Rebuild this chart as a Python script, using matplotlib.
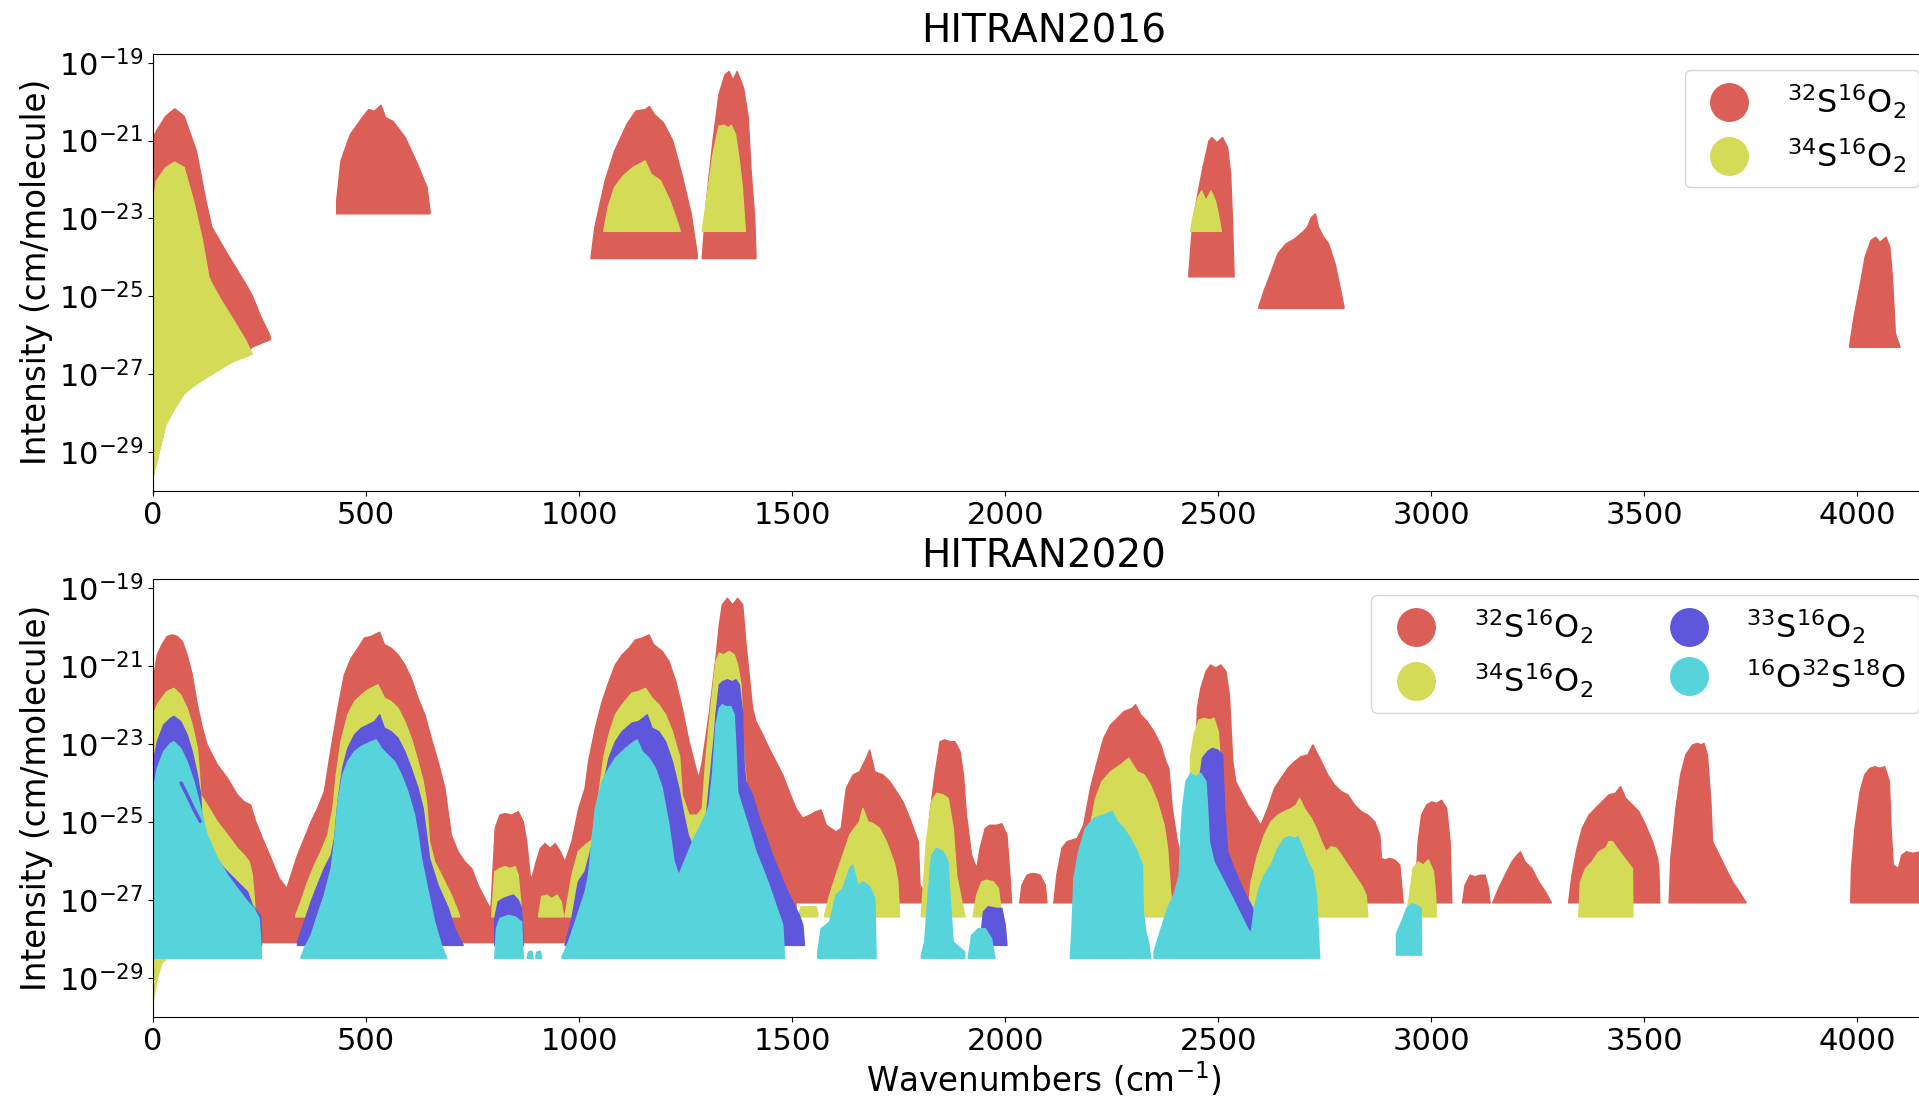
import matplotlib
matplotlib.use("Agg")
import matplotlib.pyplot as plt
import numpy as np
from matplotlib.lines import Line2D
from matplotlib.ticker import NullLocator


RED = "#db5f57"
YELLOW = "#d3db57"
BLUE = "#5f57db"
CYAN = "#57d3db"

LABEL_626 = r"$^{32}$S$^{16}$O$_2$"
LABEL_646 = r"$^{34}$S$^{16}$O$_2$"
LABEL_636 = r"$^{33}$S$^{16}$O$_2$"
LABEL_628 = r"$^{16}$O$^{32}$S$^{18}$O"

X_TICKS = [0, 500, 1000, 1500, 2000, 2500, 3000, 3500, 4000]
Y_TICK_EXPONENTS = [-29, -27, -25, -23, -21, -19]

# Each band: (wavenumber, log10 of the upper envelope) pairs, then the log10 floor
# (a single value, or one value per pair when the lower edge is not flat).

S626_2016 = [
    ([(0, -20.9), (7, -20.74), (29, -20.36), (50, -20.17), (72, -20.36), (101, -21.26),
      (123, -22.53), (137, -23.21), (173, -23.89), (216, -24.66), (231, -24.95),
      (252, -25.51), (271, -25.94), (274, -26.02)],
     [-29.55, -29.25, -28.25, -27.83, -27.45, -27.22, -27.06, -26.97, -26.72, -26.5,
      -26.3, -26.2, -26.12, -26.1]),
    ([(430, -22.53), (440, -21.51), (462, -20.83), (490, -20.40), (505, -20.19), (519, -20.23),
      (534, -20.08), (545, -20.40), (562, -20.49), (591, -20.91), (620, -21.60), (642, -22.19),
      (649, -22.79)], -22.87),
    ([(1027, -23.98), (1036, -23.21), (1060, -22.02), (1082, -21.26), (1111, -20.57),
      (1132, -20.23), (1154, -20.19), (1164, -20.11), (1176, -20.32), (1197, -20.53),
      (1219, -21.0), (1240, -21.85), (1262, -22.87), (1276, -23.89)], -24.02),
    ([(1288, -23.98), (1298, -22.53), (1313, -21.0), (1327, -19.81), (1341, -19.30),
      (1351, -19.21), (1360, -19.43), (1370, -19.21), (1385, -19.64), (1396, -20.40),
      (1402, -21.68), (1411, -22.96), (1414, -23.89)], -24.02),
    ([(2430, -24.40), (2437, -23.38), (2448, -22.53), (2463, -21.68), (2477, -21.0),
      (2484, -20.91), (2496, -21.04), (2509, -20.91), (2521, -21.17), (2528, -21.85),
      (2532, -22.96), (2536, -24.40)], -24.49),
    ([(2594, -25.26), (2607, -24.83), (2622, -24.40), (2639, -23.89), (2658, -23.64),
      (2679, -23.51), (2701, -23.30), (2708, -23.21), (2718, -22.96), (2727, -22.87),
      (2734, -23.21), (2744, -23.43), (2758, -23.64), (2773, -24.15), (2783, -24.66),
      (2794, -25.26)], -25.30),
    ([(3981, -26.23), (3991, -25.51), (4006, -24.66), (4017, -23.98), (4031, -23.55),
      (4042, -23.47), (4052, -23.60), (4066, -23.47), (4075, -23.72), (4081, -24.49),
      (4088, -25.94), (4099, -26.30)], -26.30),
]

S646_2016 = [
    ([(0, -22.53), (7, -22.02), (29, -21.68), (50, -21.54), (72, -21.68), (94, -22.53),
      (115, -23.55), (130, -24.49), (137, -24.66), (159, -25.09), (188, -25.6),
      (216, -26.11), (231, -26.45)],
     [-29.6, -29.3, -28.3, -27.88, -27.5, -27.3, -27.15, -27.04, -27.0, -26.85, -26.66,
      -26.55, -26.48]),
    ([(1057, -23.30), (1067, -22.70), (1082, -22.19), (1103, -21.89), (1125, -21.68),
      (1139, -21.60), (1154, -21.51), (1168, -21.85), (1190, -22.02), (1212, -22.53),
      (1226, -22.96), (1236, -23.30)], -23.32),
    ([(1288, -23.30), (1298, -22.53), (1313, -21.34), (1327, -20.62), (1339, -20.59),
      (1349, -20.66), (1356, -20.59), (1366, -20.83), (1375, -21.51), (1382, -22.19),
      (1389, -23.30)], -23.32),
    ([(2434, -23.30), (2441, -22.87), (2451, -22.45), (2460, -22.28), (2470, -22.53),
      (2482, -22.28), (2492, -22.53), (2499, -22.87), (2506, -23.30)], -23.32),
]

S626_2020 = [
    ([(0, -21.30), (9, -20.70), (20, -20.44), (32, -20.23), (44, -20.19), (56, -20.23),
      (68, -20.36), (79, -20.70), (91, -21.21), (103, -21.98), (115, -22.58), (126, -23.01),
      (134, -23.18), (150, -23.52), (174, -23.87), (197, -24.29), (213, -24.47), (228, -24.55),
      (240, -24.98), (256, -25.41), (276, -25.92), (295, -26.43), (313, -26.69), (323, -26.35),
      (338, -25.84), (354, -25.41), (370, -24.98), (385, -24.64), (401, -24.21), (417, -23.10),
      (433, -22.07), (448, -21.21), (464, -20.79), (480, -20.53), (495, -20.27), (511, -20.23),
      (531, -20.12), (542, -20.44), (558, -20.53), (574, -20.70), (590, -20.96), (605, -21.30),
      (621, -21.81), (637, -22.24), (652, -22.84), (668, -23.44), (684, -24.12), (699, -25.32),
      (715, -25.75), (731, -26.01), (747, -26.18), (762, -26.61), (778, -26.95), (786, -27.12),
      (792, -27.20), (802, -25.15), (813, -24.81), (825, -24.77), (841, -24.81), (856, -24.72),
      (868, -24.98), (876, -25.49), (884, -26.35), (888, -26.44), (896, -26.09), (908, -25.66),
      (919, -25.54), (931, -25.66), (943, -25.54), (955, -25.75), (966, -26.01), (982, -25.49),
      (998, -24.64), (1013, -24.12), (1021, -23.44), (1037, -22.58), (1053, -21.90),
      (1069, -21.39), (1084, -20.96), (1100, -20.70), (1116, -20.53), (1131, -20.32),
      (1147, -20.27), (1163, -20.19), (1174, -20.44), (1194, -20.61), (1210, -20.87),
      (1226, -21.39), (1241, -22.07), (1257, -22.93), (1273, -23.61), (1280, -23.87),
      (1288, -23.44), (1304, -22.24), (1320, -20.79), (1328, -19.93), (1335, -19.42),
      (1347, -19.25), (1359, -19.42), (1371, -19.25), (1383, -19.42), (1390, -20.36),
      (1398, -21.21), (1406, -22.07), (1414, -22.41), (1430, -22.75), (1445, -23.10),
      (1461, -23.44), (1477, -23.78), (1492, -24.21), (1508, -24.64)], -28.08),
    ([(1508, -24.64), (1524, -24.89), (1540, -24.81), (1555, -24.72), (1567, -24.68),
      (1579, -25.07), (1602, -25.24), (1614, -25.15), (1626, -24.12), (1642, -23.78),
      (1657, -23.70), (1673, -23.35), (1681, -23.14), (1693, -23.70), (1712, -23.78),
      (1728, -23.95), (1744, -24.21), (1759, -24.47), (1775, -24.89), (1795, -25.49),
      (1799, -26.61), (1810, -26.78), (1822, -24.81), (1834, -23.78), (1846, -22.93),
      (1857, -22.88), (1869, -22.93), (1881, -22.93), (1893, -23.18), (1901, -23.78),
      (1908, -24.81), (1920, -25.84), (1932, -26.18), (1940, -25.66), (1952, -25.15),
      (1963, -25.07), (1979, -25.07), (1991, -25.03), (2003, -25.32), (2010, -26.35),
      (2014, -27.06)], -27.06),
    ([(2033, -27.06), (2038, -26.61), (2050, -26.35), (2061, -26.31), (2069, -26.31),
      (2081, -26.35), (2093, -26.61), (2097, -27.06)], -27.06),
    ([(2113, -27.06), (2120, -26.35), (2132, -25.66), (2144, -25.49), (2168, -25.41),
      (2183, -25.07), (2199, -24.12), (2215, -23.44), (2230, -22.84), (2246, -22.50),
      (2262, -22.33), (2277, -22.16), (2297, -22.07), (2305, -21.98), (2317, -22.24),
      (2332, -22.41), (2348, -22.67), (2364, -23.01), (2376, -23.44), (2383, -23.61),
      (2391, -24.64), (2403, -25.49), (2419, -26.18), (2427, -26.52), (2434, -25.5),
      (2442, -24.64), (2450, -22.07), (2458, -21.56), (2470, -21.13), (2481, -20.96),
      (2493, -21.04), (2505, -20.96), (2517, -21.13), (2525, -21.73), (2533, -23.44),
      (2540, -23.95), (2552, -24.21), (2568, -24.55), (2584, -24.81), (2599, -25.07),
      (2615, -24.64), (2631, -24.12), (2646, -23.87), (2662, -23.61), (2678, -23.44),
      (2693, -23.31), (2709, -23.27), (2721, -23.01), (2729, -23.18), (2741, -23.44),
      (2756, -23.78), (2772, -24.04), (2788, -24.21), (2803, -24.29), (2819, -24.55),
      (2835, -24.72), (2850, -24.81), (2866, -24.98), (2878, -25.32), (2882, -25.92),
      (2890, -25.96), (2902, -25.92), (2913, -25.96), (2925, -26.09), (2933, -27.06)], -27.06),
    ([(2960, -27.06), (2968, -25.49), (2976, -24.81), (2988, -24.55), (3000, -24.47),
      (3011, -24.51), (3023, -24.43), (3035, -24.64), (3043, -25.49), (3047, -27.06)], -27.06),
    ([(3072, -27.06), (3078, -26.61), (3090, -26.35), (3102, -26.39), (3113, -26.35),
      (3125, -26.35), (3133, -26.69), (3137, -27.06)], -27.06),
    ([(3143, -27.06), (3157, -26.69), (3172, -26.35), (3188, -26.01), (3200, -25.84),
      (3208, -25.75), (3219, -26.01), (3235, -26.18), (3251, -26.52), (3267, -26.78),
      (3281, -27.06)], -27.06),
    ([(3321, -27.06), (3329, -26.35), (3341, -25.66), (3353, -25.15), (3369, -24.81),
      (3392, -24.55), (3416, -24.29), (3431, -24.25), (3443, -24.08), (3455, -24.38),
      (3471, -24.55), (3486, -24.72), (3502, -25.07), (3518, -25.49), (3530, -25.92),
      (3533, -26.22), (3535, -27.06)], -27.06),
    ([(3557, -27.06), (3561, -25.92), (3573, -24.64), (3584, -23.78), (3596, -23.27),
      (3612, -23.01), (3624, -22.97), (3632, -23.01), (3639, -22.97), (3647, -23.27),
      (3655, -24.47), (3659, -25.49), (3675, -25.84), (3690, -26.18), (3706, -26.52),
      (3722, -26.78), (3738, -27.06)], -27.06),
    ([(3983, -27.06), (3985, -26.18), (3993, -25.15), (4005, -24.21), (4016, -23.78),
      (4028, -23.61), (4040, -23.57), (4052, -23.61), (4063, -23.57), (4074, -23.95),
      (4078, -25.15), (4083, -26.09), (4095, -26.18), (4103, -25.84), (4114, -25.75),
      (4130, -25.79), (4146, -25.75), (4160, -25.79), (4200, -25.8)], -27.06),
]

S646_2020 = [
    ([(0, -22.24), (9, -21.98), (20, -21.81), (32, -21.64), (48, -21.56), (64, -21.73),
      (79, -22.07), (91, -22.50), (103, -23.10), (107, -23.6), (111, -24.29), (126, -24.55),
      (150, -24.98), (174, -25.32), (197, -25.66), (213, -25.84), (225, -26.01), (232, -26.35),
      (238, -27.12)],
     [-29.55, -29.0, -28.6, -28.49, -28.49, -28.49, -28.49, -28.49, -28.49, -28.49, -28.49,
      -28.49, -28.49, -28.49, -28.49, -28.49, -28.49, -28.49, -28.49]),
    ([(334, -27.38), (346, -27.03), (362, -26.52), (378, -26.09), (393, -25.75), (409, -25.32),
      (421, -24.64), (429, -23.78), (440, -22.93), (456, -22.24), (472, -21.90), (488, -21.73),
      (503, -21.60), (527, -21.47), (542, -21.81), (558, -21.90), (574, -22.07), (590, -22.41),
      (605, -22.84), (621, -23.44), (633, -23.95), (641, -24.47), (648, -25.49), (660, -26.01),
      (676, -26.35), (699, -26.86), (715, -27.29), (719, -27.42)], -27.42),
    ([(794, -27.38), (801, -26.26), (813, -26.18), (825, -26.13), (837, -26.18), (849, -26.13),
      (856, -26.35), (864, -27.29)], -27.42),
    ([(904, -27.38), (911, -26.90), (923, -26.86), (935, -26.95), (947, -26.86), (957, -27.03),
      (962, -27.38)], -27.42),
    ([(966, -27.38), (982, -26.35), (997, -25.75), (1013, -25.58), (1029, -25.45), (1045, -24.3),
      (1057, -23.31), (1069, -22.75), (1084, -22.24), (1100, -21.98), (1123, -21.68),
      (1139, -21.64), (1155, -21.56), (1170, -21.81), (1186, -21.98), (1202, -22.24),
      (1218, -22.67), (1229, -23.10), (1235, -23.31), (1241, -24.3), (1257, -24.81),
      (1276, -24.81), (1288, -24.64), (1296, -23.44), (1308, -22.07), (1320, -20.87),
      (1328, -20.66), (1339, -20.70), (1351, -20.61), (1363, -20.70), (1371, -20.96),
      (1379, -21.47), (1386, -23.35), (1390, -23.8), (1394, -27.42)], -27.42),
    ([(1516, -27.3), (1520, -27.16), (1555, -27.16), (1559, -27.3)], -27.42),
    ([(1575, -27.38), (1587, -26.86), (1602, -26.35), (1618, -25.84), (1634, -25.32),
      (1645, -25.15), (1657, -24.98), (1665, -24.64), (1677, -24.98), (1689, -25.03),
      (1704, -25.15), (1720, -25.49), (1732, -25.84), (1740, -26.09), (1747, -26.52),
      (1751, -27.38)], -27.42),
    ([(1802, -27.38), (1814, -25.49), (1826, -24.47), (1838, -24.25), (1853, -24.29),
      (1865, -24.38), (1877, -25.15), (1885, -26.35), (1897, -27.03), (1904, -27.38)], -27.42),
    ([(1924, -27.38), (1932, -26.86), (1944, -26.52), (1955, -26.48), (1971, -26.52),
      (1983, -26.69), (1991, -27.38)], -27.42),
    ([(2175, -27.38), (2187, -26.18), (2199, -25.07), (2211, -24.38), (2226, -23.95),
      (2246, -23.70), (2270, -23.52), (2289, -23.35), (2309, -23.70), (2325, -23.78),
      (2340, -24.04), (2356, -24.47), (2372, -25.07), (2380, -25.66), (2387, -26.78),
      (2395, -27.38)], -27.42),
    ([(2432, -27.38), (2434, -23.31), (2442, -22.75), (2454, -22.37), (2466, -22.33),
      (2478, -22.37), (2489, -22.33), (2499, -22.67), (2503, -23.31), (2507, -27.38)], -27.42),
    ([(2568, -27.38), (2576, -26.52), (2591, -25.84), (2607, -25.32), (2623, -24.98),
      (2639, -24.81), (2654, -24.72), (2670, -24.64), (2682, -24.55), (2690, -24.38),
      (2701, -24.64), (2717, -24.89), (2729, -25.15), (2741, -25.49), (2752, -25.75),
      (2764, -25.62), (2776, -25.66), (2788, -25.84), (2803, -26.09), (2819, -26.35),
      (2835, -26.61), (2846, -26.86), (2850, -27.38)], -27.42),
    ([(2941, -27.38), (2949, -26.78), (2956, -26.18), (2968, -26.01), (2980, -26.09),
      (2992, -25.96), (3004, -26.26), (3009, -26.86), (3011, -27.38)], -27.42),
    ([(3345, -27.38), (3349, -26.52), (3361, -26.18), (3376, -26.01), (3392, -25.75),
      (3408, -25.66), (3416, -25.49), (3424, -25.49), (3435, -25.66), (3447, -25.84),
      (3459, -26.01), (3471, -26.18), (3472, -27.38)], -27.42),
]

S636_2020 = [
    ([(0, -23.44), (9, -22.93), (24, -22.50), (40, -22.33), (48, -22.28), (64, -22.41),
      (79, -22.75), (91, -23.18), (103, -23.78), (111, -24.29), (114, -25.0), (118, -25.41),
      (142, -25.84), (166, -26.18), (197, -26.52), (221, -26.78), (232, -27.12), (244, -27.29),
      (252, -27.42), (254, -28.15)], -28.15),
    ([(338, -28.06), (354, -27.55), (370, -27.03), (385, -26.61), (401, -26.18), (417, -25.84),
      (425, -25.41), (433, -24.47), (444, -23.61), (456, -23.10), (472, -22.75), (488, -22.58),
      (503, -22.50), (519, -22.41), (531, -22.24), (542, -22.58), (558, -22.67), (574, -22.84),
      (590, -23.18), (605, -23.61), (621, -24.12), (633, -24.64), (641, -25.32), (648, -25.92),
      (668, -26.61), (692, -27.20), (707, -27.72), (723, -28.06), (727, -28.15)], -28.15),
    ([(801, -27.46), (809, -27.03), (821, -26.95), (833, -26.90), (845, -26.86), (856, -26.99),
      (864, -27.20), (868, -28.06)], -28.15),
    ([(966, -28.15), (982, -27.46), (997, -26.52), (1013, -26.26), (1029, -25.6), (1045, -24.64),
      (1069, -23.35), (1084, -22.93), (1100, -22.67), (1123, -22.45), (1139, -22.41),
      (1159, -22.24), (1170, -22.58), (1186, -22.67), (1202, -22.93), (1218, -23.44),
      (1233, -24.12), (1245, -24.81), (1255, -25.32), (1273, -25.8), (1296, -25.0),
      (1316, -22.8), (1320, -22.24), (1328, -21.47), (1335, -21.39), (1347, -21.34),
      (1359, -21.39), (1367, -21.34), (1375, -21.47), (1383, -22.24), (1386, -23.44),
      (1390, -23.95), (1406, -24.29), (1422, -24.89), (1437, -25.32), (1453, -25.84),
      (1469, -26.26), (1485, -26.69), (1500, -27.03), (1516, -27.38), (1524, -27.63),
      (1528, -28.15)], -28.15),
    ([(1940, -28.06), (1948, -27.29), (1959, -27.16), (1979, -27.20), (1991, -27.20),
      (1999, -27.63), (2003, -28.15)], -28.15),
    ([(2450, -28.15), (2454, -23.95), (2462, -23.35), (2474, -23.18), (2485, -23.10),
      (2497, -23.14), (2509, -23.27), (2514, -24.64), (2521, -25.75), (2536, -26.18),
      (2560, -26.78), (2580, -27.20), (2588, -27.72), (2590, -28.15)], -28.15),
]

# thin 33S16O2 streak that shows through the 16O32S18O rotational band
S636_2020_STREAK = [(66, -24.0), (80, -24.3), (95, -24.65), (111, -24.98)]

S628_2020 = [
    ([(0, -24.12), (9, -23.61), (24, -23.18), (40, -22.97), (48, -22.93), (64, -23.10),
      (79, -23.44), (95, -23.95), (111, -24.64), (126, -25.32), (150, -25.92), (174, -26.35),
      (197, -26.69), (221, -27.03), (236, -27.20), (248, -27.46), (252, -28.06),
      (254, -28.47)], -28.48),
    ([(346, -28.47), (354, -28.23), (370, -27.89), (385, -27.38), (401, -26.86), (417, -26.18),
      (425, -25.49), (433, -24.47), (444, -23.78), (456, -23.44), (472, -23.18), (488, -23.05),
      (511, -22.93), (523, -22.88), (535, -23.10), (550, -23.27), (566, -23.44), (582, -23.78),
      (597, -24.21), (613, -24.81), (621, -25.32), (629, -25.92), (645, -26.78), (660, -27.55),
      (676, -28.15), (688, -28.47)], -28.48),
    ([(801, -28.47), (805, -27.72), (813, -27.46), (833, -27.38), (849, -27.42), (864, -27.55),
      (868, -28.47)], -28.48),
    ([(877, -28.47), (880, -28.32), (888, -28.30), (891, -28.47)], -28.48),
    ([(897, -28.47), (900, -28.32), (908, -28.30), (911, -28.47)], -28.48),
    ([(958, -28.47), (974, -28.06), (990, -27.55), (1013, -26.78), (1021, -26.35),
      (1037, -24.64), (1053, -23.95), (1069, -23.61), (1084, -23.35), (1108, -23.10),
      (1123, -22.97), (1135, -22.88), (1147, -23.18), (1163, -23.35), (1178, -23.61),
      (1194, -24.12), (1210, -25.07), (1222, -26.01), (1233, -26.35), (1249, -25.92),
      (1265, -25.49), (1280, -25.15), (1296, -24.81), (1304, -24.55), (1312, -23.78),
      (1320, -22.50), (1328, -22.07), (1335, -21.98), (1343, -22.03), (1355, -22.03),
      (1363, -22.24), (1367, -23.10), (1371, -24.21), (1383, -24.64), (1398, -25.15),
      (1414, -25.75), (1430, -26.18), (1445, -26.61), (1461, -27.12), (1477, -27.63),
      (1481, -28.47)], -28.48),
    ([(1559, -28.32), (1567, -27.72), (1587, -27.55), (1602, -26.86), (1618, -26.69),
      (1634, -26.18), (1641, -26.09), (1653, -26.61), (1665, -26.52), (1681, -26.65),
      (1693, -26.95), (1696, -28.47)], -28.48),
    ([(1802, -28.40), (1810, -28.06), (1818, -26.86), (1826, -25.84), (1838, -25.66),
      (1853, -25.75), (1865, -26.01), (1869, -26.86), (1877, -28.06), (1904, -28.32)], -28.48),
    ([(1912, -28.47), (1920, -27.89), (1936, -27.72), (1952, -27.72), (1967, -27.98),
      (1975, -28.47)], -28.48),
    ([(2152, -28.40), (2156, -27.63), (2160, -26.44), (2171, -25.75), (2187, -25.15),
      (2207, -24.89), (2230, -24.81), (2250, -24.72), (2262, -24.98), (2277, -25.15),
      (2293, -25.41), (2309, -25.75), (2321, -26.09), (2323, -27.3), (2330, -27.85),
      (2336, -28.1), (2340, -28.47)], -28.48),
    ([(2348, -28.32), (2360, -27.89), (2380, -27.20), (2395, -26.86), (2407, -26.35),
      (2411, -25.32), (2415, -24.64), (2423, -23.95), (2434, -23.74), (2446, -23.83),
      (2458, -23.74), (2470, -23.95), (2474, -24.64), (2478, -25.49), (2489, -26.01),
      (2529, -26.86), (2568, -27.72), (2576, -27.85), (2584, -27.20), (2595, -26.69),
      (2607, -26.35), (2623, -26.09), (2639, -25.66), (2654, -25.41), (2666, -25.36),
      (2678, -25.41), (2686, -25.36), (2697, -25.66), (2709, -26.01), (2721, -26.26),
      (2729, -26.86), (2733, -27.63), (2737, -28.47)], -28.48),
    ([(2917, -27.85), (2929, -27.55), (2941, -27.20), (2953, -27.08), (2964, -27.12),
      (2975, -27.20), (2976, -28.06)], -28.40),
]


def draw_bands(axis: plt.Axes, bands: list, color: str) -> None:
    for pairs, floor in bands:
        wavenumbers = np.array([p[0] for p in pairs], dtype=float)
        upper = 10.0 ** np.array([p[1] for p in pairs], dtype=float)
        lower = 10.0 ** np.broadcast_to(np.asarray(floor, dtype=float), upper.shape)
        axis.fill_between(wavenumbers, lower, upper, color=color, linewidth=1.0)


def draw_streak(axis: plt.Axes, pairs: list, color: str) -> None:
    wavenumbers = [p[0] for p in pairs]
    intensity = [10.0 ** p[1] for p in pairs]
    axis.plot(wavenumbers, intensity, color=color, linewidth=2.5, solid_capstyle="round")


def style_axis(axis: plt.Axes, title: str) -> None:
    axis.set_yscale("log")
    axis.set_xlim(0, 4182)
    axis.set_ylim(10.0 ** -30.0, 10.0 ** -18.77)
    axis.set_xticks(X_TICKS)
    axis.set_yticks([10.0 ** e for e in Y_TICK_EXPONENTS])
    axis.yaxis.set_minor_locator(NullLocator())
    axis.tick_params(labelsize=22)
    axis.set_title(title, fontsize=28, pad=8)
    axis.set_ylabel("Intensity (cm/molecule)", fontsize=23.5)


def add_legend(axis: plt.Axes, colors: list[str], labels: list[str], ncol: int) -> None:
    handles = [
        Line2D([], [], linestyle="none", marker="o", markersize=27, color=c)
        for c in colors
    ]
    axis.legend(handles, labels, loc="upper right", ncol=ncol, fontsize=23)


def main() -> None:
    figure = plt.figure(figsize=(19.19, 11.02), dpi=100)
    top = figure.add_axes([0.0797, 0.5546, 0.9286, 0.3966])
    bottom = figure.add_axes([0.0797, 0.0771, 0.9286, 0.3975])

    draw_bands(top, S626_2016, RED)
    draw_bands(top, S646_2016, YELLOW)
    style_axis(top, "HITRAN2016")
    add_legend(top, [RED, YELLOW], [LABEL_626, LABEL_646], ncol=1)

    draw_bands(bottom, S626_2020, RED)
    draw_bands(bottom, S646_2020, YELLOW)
    draw_bands(bottom, S636_2020, BLUE)
    draw_bands(bottom, S628_2020, CYAN)
    draw_streak(bottom, S636_2020_STREAK, BLUE)
    style_axis(bottom, "HITRAN2020")
    bottom.set_xlabel("Wavenumbers (cm$^{-1}$)", fontsize=23.5, labelpad=3)
    add_legend(
        bottom,
        [RED, YELLOW, BLUE, CYAN],
        [LABEL_626, LABEL_646, LABEL_636, LABEL_628],
        ncol=2,
    )

    figure.savefig("out.png", dpi=100)
    plt.close(figure)


if __name__ == "__main__":
    main()
